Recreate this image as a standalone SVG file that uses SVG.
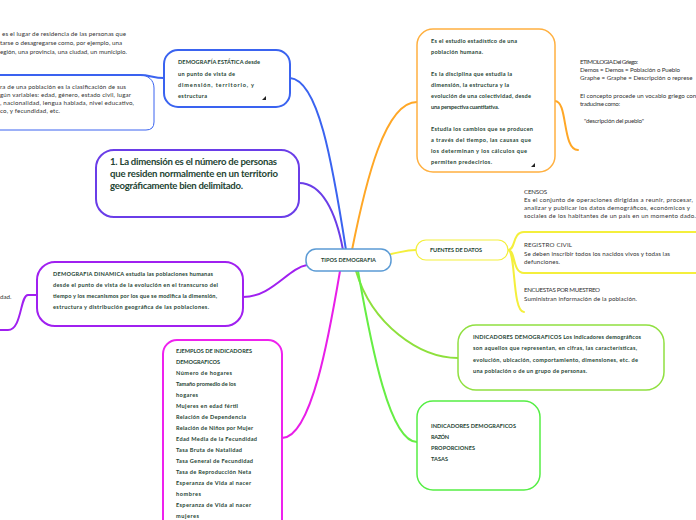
<svg xmlns="http://www.w3.org/2000/svg" width="696" height="520" viewBox="0 0 696 520">
<style>
.b{font-family:Lato,"Liberation Sans",sans-serif;font-weight:bold;font-size:5.6px;fill:#1e4433}
.g{font-family:Lato,"Liberation Sans",sans-serif;font-size:6.2px;fill:#333}
.big{font-family:Lato,"Liberation Sans",sans-serif;font-weight:bold;font-size:9.6px;fill:#1e4433}
.c{fill:none;stroke-width:2;stroke-linecap:round}
</style>
<rect width="696" height="520" fill="#fff"/>
<g id="connectors">
<path class="c" stroke="#3a63f0" d="M290,78 C318,80 332,160 346,250"/>
<path class="c" stroke="#6a3de8" d="M299,183 C322,183 336,212 343,250"/>
<path class="c" stroke="#ffa726" d="M352,250 C366,180 385,102 417,102"/>
<path class="c" stroke="#ffa726" stroke-width="1" d="M555,101 C568,101 562,150 578,150"/>
<path class="c" stroke="#f4ef3c" d="M391,254 C402,252 406,250 416,250"/>
<path class="c" stroke="#f4ef3c" stroke-width="1.2" d="M508,250 C516,250 512,232 524,232 L696,232 M508,250 C516,250 512,273 524,273 L696,273 M508,250 C516,250 512,312 524,312"/>
<path class="c" stroke="#8ee03c" d="M356,271 C372,325 420,358 458,358"/>
<path class="c" stroke="#66ee44" d="M358,271 C372,350 390,442 417,442"/>
<path class="c" stroke="#e81ee8" d="M282,438 C312,438 330,330 340,271"/>
<path class="c" stroke="#a020f0" d="M243,297 C272,297 288,268 307,265"/>
<path class="c" stroke="#a020f0" stroke-width="1.2" d="M37,295 L28,295 C20,295 22,330 8,330 L0,330"/>
<path class="c" stroke="#3a63f0" d="M0,75 L140,75 C150,75 153,78 164,78"/>
</g>
<g id="center">
<rect x="306" y="249" width="85" height="22" rx="10" fill="#fff" stroke="#5b9bd5" stroke-width="1.5"/>
<text class="b" x="348.5" y="262" text-anchor="middle">TIPOS DEMOGRAFIA</text>
</g>
<g id="dimension">
<rect x="96" y="150" width="203" height="67" rx="18" fill="#fff" stroke="#6a3de8" stroke-width="2"/>
<text class="big" x="110" y="165" textLength="167">1. La dimensión es el número de personas</text>
<text class="big" x="110" y="177" textLength="168">que residen normalmente en un territorio</text>
<text class="big" x="110" y="189" textLength="133">geográficamente bien delimitado.</text>
</g>
<g id="estatica">
<rect x="164" y="50" width="126" height="57" rx="14" fill="#fff" stroke="#3a63f0" stroke-width="2"/>
<text class="b" x="178" y="64" textLength="82">DEMOGRAFÍA ESTÁTICA desde</text>
<text class="b" x="178" y="76" textLength="57">un punto de vista de</text>
<text class="b" x="178" y="87" textLength="76">dimensión, territorio, y</text>
<text class="b" x="178" y="98" textLength="29">estructura</text>
<path d="M266,96 L266,100 L262,100 Z" fill="#222"/>
</g>
<g id="residencia">
<text class="g" x="2" y="36" textLength="124">es el lugar de residencia de las personas que</text>
<text class="g" x="0" y="45" textLength="122">tarse o desagregarse como, por ejemplo, una</text>
<text class="g" x="0" y="54" textLength="127">egión, una provincia, una ciudad, un municipio.</text>
</g>
<g id="estructura">
<path d="M0,75 L140,75 C148,75 154,80 154,88 L154,122 Q154,130 146,130 L0,130" fill="none" stroke="#3a63f0" stroke-width="1"/>
<text class="g" x="0" y="89" textLength="126">ra de una población es la clasificación de sus</text>
<text class="g" x="0" y="97" textLength="131">gún variables: edad, género, estado civil, lugar</text>
<text class="g" x="0" y="105" textLength="134">, nacionalidad, lengua hablada, nivel educativo,</text>
<text class="g" x="0" y="113" textLength="60">co, y fecundidad, etc.</text>
</g>
<g id="definicion">
<rect x="417" y="29" width="138" height="143" rx="16" fill="#fff" stroke="#ffb040" stroke-width="1.5"/>
<text class="b" x="431" y="43" textLength="86">Es el estudio estadístico de una</text>
<text class="b" x="431" y="54" textLength="52">población humana.</text>
<text class="b" x="431" y="76" textLength="81">Es la  disciplina que  estudia la</text>
<text class="b" x="431" y="87" textLength="78">dimensión, la estructura y la</text>
<text class="b" x="431" y="98" textLength="100">evolución de una colectividad, desde</text>
<text class="b" x="431" y="109" textLength="68">una perspectiva cuantitativa.</text>
<text class="b" x="431" y="131" textLength="102">Estudia los cambios que se producen</text>
<text class="b" x="431" y="142" textLength="100">a través del tiempo, las causas que</text>
<text class="b" x="431" y="153" textLength="96">los determinan y los cálculos que</text>
<text class="b" x="431" y="164" textLength="61">permiten predecirlos.</text>
<path d="M535,163 L535,167 L531,167 Z" fill="#222"/>
</g>
<g id="etimologia">
<text class="g" x="580" y="64" textLength="58">ETIMOLOGIA Del Griego:</text>
<text class="g" x="580" y="72" textLength="100">Demos  =  Demos  = Población o Pueblo</text>
<text class="g" x="580" y="80">Graphe =  Graphe = Descripción o represe</text>
<text class="g" x="580" y="98">El concepto procede un vocablo griego con</text>
<text class="g" x="580" y="106" textLength="40">traducirse como:</text>
<text class="g" x="584" y="123" textLength="60">"descripción del pueblo"</text>
</g>
<g id="fuentes">
<rect x="416" y="240" width="92" height="20" rx="10" fill="#fff" stroke="#f4ef3c" stroke-width="1.2"/>
<text class="b" x="430" y="252" textLength="52">FUENTES DE DATOS</text>
</g>
<g id="censos">
<text class="g" x="524" y="194" textLength="23">CENSOS</text>
<text class="g" x="524" y="202" textLength="169">Es el conjunto de operaciones dirigidas a reunir, procesar,</text>
<text class="g" x="524" y="210" textLength="166">analizar y publicar los datos demográficos, económicos y</text>
<text class="g" x="524" y="218" textLength="172">sociales de los habitantes de un país en un momento dado.</text>
</g>
<g id="registro">
<text class="g" x="524" y="247" textLength="48">REGISTRO CIVIL</text>
<text class="g" x="524" y="256" textLength="146">Se deben inscribir todos los nacidos vivos y todas las</text>
<text class="g" x="524" y="264" textLength="36">defunciones.</text>
</g>
<g id="encuestas">
<text class="g" x="524" y="292" textLength="76">ENCUESTAS POR MUESTREO</text>
<text class="g" x="524" y="301" textLength="113">Suministran información de la población.</text>
</g>
<g id="indicadores">
<rect x="458" y="325" width="206" height="65" rx="18" fill="#fff" stroke="#90e040" stroke-width="1.5"/>
<text class="b" x="473" y="339" textLength="168">INDICADORES DEMOGRAFICOS Los indicadores demográficos</text>
<text class="b" x="473" y="350" textLength="164">son aquellos que representan, en cifras, las características,</text>
<text class="b" x="473" y="362" textLength="165">evolución, ubicación, comportamiento, dimensiones, etc. de</text>
<text class="b" x="473" y="373" textLength="114">una población o de un grupo de personas.</text>
</g>
<g id="indicadores2">
<rect x="417" y="401" width="123" height="89" rx="16" fill="#fff" stroke="#55ee44" stroke-width="1.5"/>
<text class="b" x="431" y="428" textLength="85">INDICADORES DEMOGRAFICOS</text>
<text class="b" x="431" y="439" textLength="18">RAZÓN</text>
<text class="b" x="431" y="450" textLength="44">PROPORCIONES</text>
<text class="b" x="431" y="461" textLength="17">TASAS</text>
</g>
<g id="dinamica">
<rect x="37" y="262" width="206" height="64" rx="18" fill="#fff" stroke="#a020f0" stroke-width="2"/>
<text class="b" x="53" y="276" textLength="160">DEMOGRAFIA DINAMICA estudia las poblaciones  humanas</text>
<text class="b" x="53" y="287" textLength="165">desde el  punto de vista de la evolución en  el transcurso del</text>
<text class="b" x="53" y="298" textLength="164">tiempo y los mecanismos por los que se modifica la dimensión,</text>
<text class="b" x="53" y="309" textLength="156">estructura y distribución  geográfica  de las poblaciones.</text>
</g>
<g id="dad">
<text class="g" x="0" y="299">dad.</text>
</g>
<g id="ejemplos">
<rect x="163" y="340" width="119" height="200" rx="14" fill="#fff" stroke="#ee22ee" stroke-width="2"/>
<text class="b" x="176" y="353" textLength="76">EJEMPLOS DE INDICADORES</text>
<text class="b" x="176" y="364" textLength="44">DEMOGRAFICOS</text>
<text class="b" x="176" y="375" textLength="56">Número de hogares</text>
<text class="b" x="176" y="386" textLength="60">Tamaño promedio de los</text>
<text class="b" x="176" y="397" textLength="22">hogares</text>
<text class="b" x="176" y="408" textLength="62">Mujeres en edad fértil</text>
<text class="b" x="176" y="419" textLength="70">Relación de Dependencia</text>
<text class="b" x="176" y="430" textLength="77">Relación de Niños por Mujer</text>
<text class="b" x="176" y="441" textLength="81">Edad Media de la Fecundidad</text>
<text class="b" x="176" y="452" textLength="66">Tasa Bruta de Natalidad</text>
<text class="b" x="176" y="463" textLength="77">Tasa General de Fecundidad</text>
<text class="b" x="176" y="474" textLength="75">Tasa de Reproducción Neta</text>
<text class="b" x="176" y="485" textLength="75">Esperanza de Vida al nacer</text>
<text class="b" x="176" y="496" textLength="25">hombres</text>
<text class="b" x="176" y="507" textLength="75">Esperanza de Vida al nacer</text>
<text class="b" x="176" y="518" textLength="23">mujeres</text>
</g>
</svg>
